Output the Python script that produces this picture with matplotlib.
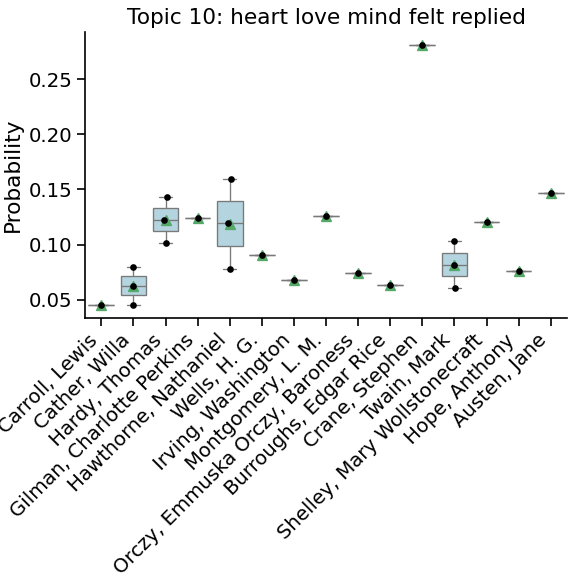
import matplotlib
matplotlib.use("Agg")
import matplotlib.pyplot as plt
import seaborn as sns
import pandas as pd

sns.set_theme(style="ticks", font_scale=1.35,
              rc={"text.color": "black", "axes.labelcolor": "black",
                  "xtick.color": "black", "ytick.color": "black", "axes.edgecolor": "black"})

categories = ["Carroll, Lewis", "Cather, Willa", "Hardy, Thomas", "Gilman, Charlotte Perkins",
              "Hawthorne, Nathaniel", "Wells, H. G.", "Irving, Washington", "Montgomery, L. M.",
              "Orczy, Emmuska Orczy, Baroness", "Burroughs, Edgar Rice", "Crane, Stephen",
              "Twain, Mark", "Shelley, Mary Wollstonecraft", "Hope, Anthony", "Austen, Jane"]
values = [[0.0452], [0.0452, 0.0625, 0.0800], [0.1015, 0.1225, 0.1434], [0.1243],
          [0.0779, 0.1191, 0.1597], [0.0903], [0.0679], [0.1261], [0.0739], [0.0630],
          [0.2806], [0.0606, 0.0815, 0.1034], [0.1206], [0.0764], [0.1470]]

rows = [(c, v) for c, vs in zip(categories, values) for v in vs]
df = pd.DataFrame(rows, columns=["Category", "Probability"])

fig, ax = plt.subplots(figsize=(6, 6), dpi=96)
sns.boxplot(data=df, x="Category", y="Probability", order=categories, color="lightblue",
            showmeans=True, width=0.8, ax=ax,
            meanprops=dict(marker="^", markerfacecolor="#55a868", markeredgecolor="#55a868", markersize=8),
            showfliers=False)
sns.stripplot(data=df, x="Category", y="Probability", order=categories, color="black",
              size=5, jitter=0.05, ax=ax)
ax.set_title("Topic 10: heart love mind felt replied")
ax.set_yticks([0.05, 0.10, 0.15, 0.20, 0.25])
plt.setp(ax.get_xticklabels(), rotation=45, ha="right")
sns.despine(ax=ax)
fig.subplots_adjust(left=0.148, right=0.984, top=0.944, bottom=0.448)
fig.savefig("out.png")
